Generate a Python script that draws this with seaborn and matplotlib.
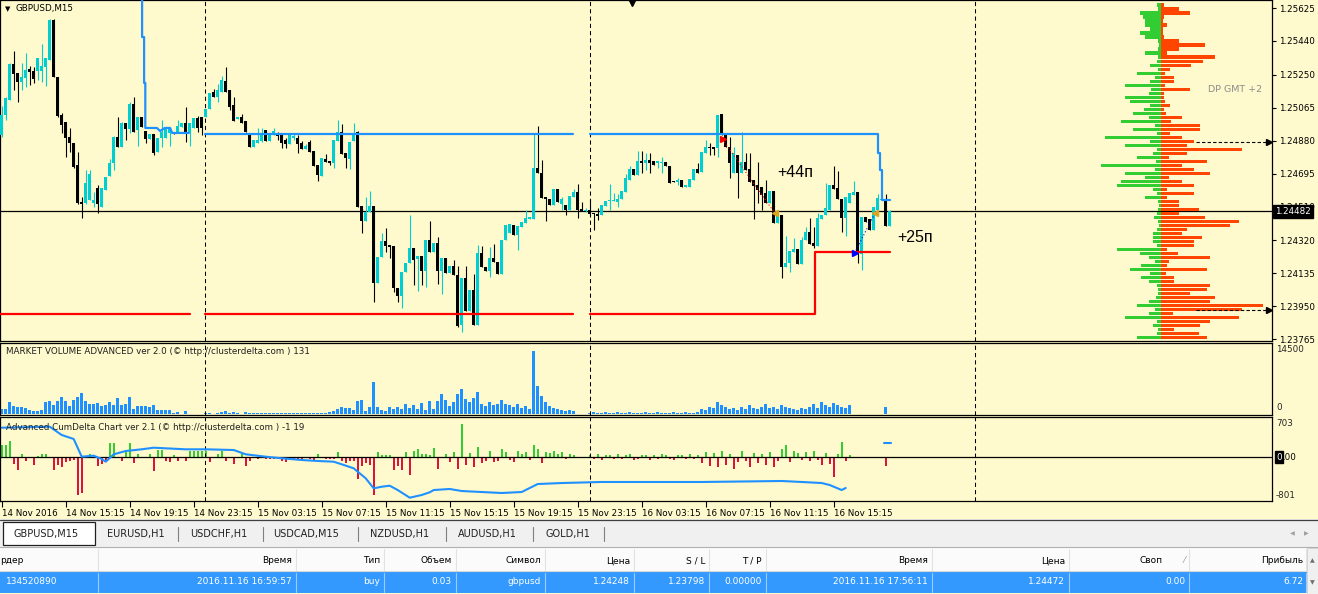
import numpy as np
import pandas as pd
import matplotlib
matplotlib.use("Agg")
import matplotlib.pyplot as plt
import matplotlib.transforms as mtrans
from matplotlib.patches import Rectangle
import seaborn as sns

# ---------------- data (prices as 1.2 + value/1e5) ----------------
OPEN = [
 4911,5024,5108,5310,5260,5209,5232,5282,5271,5271,
 5271,5293,5333,5558,5237,5024,4984,4900,4866,4743,
 4535,4529,4546,4529,4613,4507,4602,4681,4754,4900,
 4844,4979,4945,5086,4939,5012,4934,4889,4917,4816,
 4894,4894,4923,4928,4923,4956,4979,4923,4951,5007,
 5012,5012,5057,5153,5125,5153,5215,5164,5080,5001,
 5012,4990,4923,4844,4866,4878,4939,4878,4911,4917,
 4917,4883,4861,4894,4894,4866,4833,4872,4821,4743,
 4681,4776,4765,4754,4878,4928,4810,4776,4878,4928,
 4512,4428,4479,4512,4080,4226,4316,4293,4288,4051,
 4007,4141,4192,4276,4214,4231,4147,4321,4254,4304,
 4147,4220,4136,4175,4125,3844,4108,3922,4040,3844,
 4248,4170,4147,4220,4198,4130,4321,4361,4406,4349,
 4394,4417,4439,4439,4726,4697,4563,4551,4518,4608,
 4524,4518,4490,4563,4591,4495,4484,4490,4473,4467,
 4462,4512,4540,4540,4535,4551,4591,4658,4720,4687,
 4765,4754,4771,4765,4754,4754,4760,4737,4653,4647,
 4658,4619,4619,4658,4720,4703,4810,4844,4844,4838,
 5029,4911,4844,4697,4799,4697,4760,4720,4658,4630,
 4619,4585,4529,4597,4417,4462,4170,4192,4254,4271,
 4186,4321,4366,4304,4288,4439,4462,4490,4630,4613,
 4551,4445,4529,4574,4591,4243,4450,4439,4377,4490,
 4546,4546,4400]
HIGH = [
 5074,5125,5316,5383,5260,5316,5372,5299,5293,5344,
 5423,5344,5563,5563,5237,5035,4984,4951,4866,4816,
 4563,4715,4715,4591,4630,4613,4675,4776,4906,5012,
 4984,4979,5097,5125,5012,5012,4934,4917,4917,4894,
 4996,4945,4951,4928,4996,4979,5069,4979,5007,5018,
 5012,5057,5147,5170,5198,5243,5293,5164,5125,5012,
 5029,4990,4923,4883,4951,4951,4939,4911,4951,4928,
 4917,4894,4911,4917,4911,4878,4861,4883,4821,4743,
 4782,4805,4765,4883,4996,4973,4810,4872,4979,4934,
 4512,4563,4597,4512,4226,4361,4389,4293,4288,4051,
 4141,4192,4462,4276,4231,4231,4321,4428,4304,4338,
 4220,4220,4175,4209,4175,4108,4175,4040,4130,4293,
 4288,4170,4282,4299,4198,4321,4406,4411,4406,4400,
 4422,4490,4450,4917,4962,4771,4563,4551,4608,4608,
 4563,4518,4568,4608,4636,4535,4501,4551,4473,4501,
 4518,4540,4636,4585,4580,4597,4692,4737,4720,4821,
 4821,4810,4810,4765,4765,4788,4760,4737,4653,4670,
 4658,4630,4664,4720,4754,4816,4883,4866,4844,5024,
 5029,4911,4900,4844,4799,4928,4810,4810,4658,4760,
 4619,4658,4597,4597,4462,4462,4343,4259,4332,4271,
 4338,4394,4445,4394,4473,4462,4642,4630,4737,4709,
 4551,4563,4585,4653,4591,4450,4450,4439,4507,4580,
 4551,4580,4490]
LOW = [
 4900,4996,5108,5164,5097,5164,5181,5192,5204,5220,
 5209,5187,5333,5237,5012,4923,4788,4816,4725,4524,
 4445,4524,4546,4507,4473,4507,4602,4681,4715,4844,
 4844,4883,4923,4928,4850,4956,4866,4889,4799,4816,
 4844,4894,4850,4917,4923,4956,4872,4850,4951,4928,
 4911,5012,5057,5125,5097,5153,5153,5052,4990,5001,
 4979,4928,4844,4844,4866,4872,4878,4878,4911,4883,
 4838,4838,4861,4883,4810,4833,4833,4816,4737,4653,
 4681,4760,4743,4725,4878,4805,4725,4720,4878,4507,
 4361,4428,4479,3973,4080,4226,4254,4220,4029,3973,
 3939,4141,4192,4068,4035,4068,4057,4254,4254,4074,
 4018,4136,4136,4125,3832,3804,3922,3922,3844,3844,
 4170,4147,4113,4198,4130,4130,4321,4361,4349,4265,
 4394,4417,4439,4439,4697,4557,4428,4518,4518,4535,
 4490,4462,4490,4563,4445,4484,4479,4462,4377,4434,
 4462,4512,4490,4540,4507,4551,4591,4658,4687,4687,
 4698,4715,4698,4743,4725,4698,4737,4642,4647,4630,
 4619,4619,4619,4658,4697,4703,4810,4799,4799,4788,
 4911,4844,4670,4697,4557,4697,4715,4647,4439,4529,
 4490,4529,4529,4417,4417,4108,4170,4141,4254,4186,
 4186,4321,4299,4276,4288,4439,4462,4490,4608,4551,
 4366,4343,4529,4574,4192,4153,4422,4377,4377,4490,
 4546,4400,4400]
CLOSE = [
 5024,5119,5310,5254,5209,5237,5277,5265,5226,5344,
 5299,5344,5558,5237,5018,4968,4894,4866,4731,4529,
 4524,4642,4692,4546,4524,4613,4675,4754,4900,4844,
 4979,4945,5086,4928,5012,4956,4889,4917,4810,4894,
 4928,4945,4951,4917,4962,4979,4923,4979,5007,4951,
 4951,5057,5147,5125,5164,5220,5153,5069,4990,5012,
 4979,4928,4844,4883,4883,4911,4878,4911,4934,4906,
 4866,4861,4911,4906,4861,4833,4850,4816,4737,4687,
 4782,4760,4754,4883,4928,4805,4782,4872,4923,4507,
 4428,4479,4512,4080,4226,4316,4288,4282,4051,4007,
 4141,4192,4276,4209,4231,4147,4321,4254,4304,4147,
 4220,4136,4175,4125,3838,4108,3922,4040,3844,4248,
 4170,4147,4220,4198,4130,4321,4406,4411,4349,4400,
 4422,4445,4450,4726,4697,4557,4551,4518,4608,4535,
 4551,4490,4568,4591,4490,4484,4490,4467,4467,4456,
 4518,4540,4546,4546,4551,4597,4670,4720,4687,4765,
 4754,4771,4754,4743,4765,4760,4737,4642,4647,4658,
 4619,4630,4664,4720,4697,4816,4844,4838,4833,5024,
 4911,4844,4754,4810,4697,4760,4715,4647,4624,4602,
 4574,4529,4597,4417,4462,4170,4192,4259,4271,4186,
 4321,4366,4299,4288,4445,4462,4501,4630,4608,4551,
 4445,4563,4585,4591,4243,4450,4422,4377,4507,4557,
 4551,4400,4482]

VOLUME = [
 1130,1130,2720,1810,1590,1590,1360,910,680,680,
 910,2720,2950,2040,2950,3850,2950,1810,3170,3850,
 4760,2950,2270,2270,2490,1810,2040,2720,2040,3630,
 2040,2270,3850,1130,1810,1810,1810,1590,2040,910,
 910,910,910,230,450,110,680,0,0,0,
 0,230,230,110,230,450,680,230,450,230,
 110,450,230,230,230,230,230,230,230,230,
 230,230,230,230,230,230,230,230,230,230,
 230,230,450,680,1130,1590,1360,1360,910,2950,
 3170,680,1590,7250,1590,910,680,1590,1130,1590,
 1130,2270,1360,2040,1130,2490,910,2950,1130,2950,
 4530,3170,
 1810,2720,4530,5670,3400,2720,3630,4990,2270,1810,
 2720,2040,2270,3170,2270,2040,1590,2270,1360,1810,
 1130,14280,6350,4080,2720,1810,1360,1130,910,680,
 910,680,0,0,0,
 230,450,230,230,450,230,230,450,230,230,
 450,230,230,230,450,230,230,450,230,230,
 230,450,230,230,450,230,230,450,
 1130,910,1590,1360,2720,2040,1590,1130,1360,910,
 1590,1130,2040,1360,1130,1590,2270,1360,1590,1130,
 2040,1590,1360,1130,910,1360,1130,1590,2270,1360,
 2720,2040,1590,2490,2040,1590,1360,2040,
 0,0,0,0,0,0,0,0,1590,0]

DELTA = [
 254,254,338,-148,-275,63,-85,0,-169,21,
 63,63,0,-275,-169,-212,-106,-85,-63,-801,
 -761,0,63,0,-190,-148,-85,296,296,0,
 -85,127,296,-127,63,0,0,63,-296,148,
 148,-85,-106,42,-85,0,-85,127,127,127,
 127,127,-106,0,63,127,-85,0,-148,0,
 63,-190,-85,0,-42,0,-42,-42,-42,-42,
 -85,-106,-42,-42,-42,-63,0,-42,-63,63,
 0,-42,-42,-42,106,-85,-127,-85,-85,-465,
 -190,-127,-169,-790,106,42,42,42,-275,-190,
 -275,106,-381,127,169,63,63,42,190,-254,
 0,63,
 -106,106,-254,703,-169,85,-212,212,-127,-85,
 127,-106,-85,169,106,-63,-106,127,63,106,
 -63,254,169,-127,106,85,127,63,106,-42,
 63,42,0,0,0,
 42,-42,63,-63,42,42,-42,63,-42,42,
 63,-63,-42,42,42,-63,42,-42,63,42,
 -42,-63,42,42,-42,63,-42,42,
 -127,106,-190,85,-212,127,-169,63,-254,-106,
 127,-85,-212,85,-127,63,-169,106,-212,-85,
 169,254,-106,127,85,-63,106,-85,127,-63,
 -169,85,-148,-423,63,317,-85,42,
 0,0,0,0,0,0,0,0,-190,0]

CUM_IDX = [0,12,15,18,20,23,25,26,28,31,35,38,41,46,51,58,61,66,70,75,79,83,85,88,90,
           91,93,95,97,99,102,105,107,108,112,115,120,125,130,134,140,150,175,195,200,
           205,207,210,211]
CUM_VAL = [626,647,472,387,13,34,-36,-93,63,133,169,203,190,169,169,154,63,13,-21,-57,
           -78,-93,-148,-233,-374,-444,-656,-622,-601,-692,-854,-797,-740,-692,-670,
           -713,-734,-755,-734,-565,-544,-522,-522,-501,-522,-544,-586,-692,-649]
CUM_TAIL_IDX = [220.6, 222.2]
CUM_TAIL_VAL = [302, 302]

# daily high / low levels (indicator lines)
BLUE1_IDX = [35.1, 35.1, 35.6, 35.6, 35.9, 35.9, 38.8, 39.6, 40.8, 42.1, 42.6, 46.8]
BLUE1_VAL = [5670, 5462, 5462, 5204, 5204, 4951, 4951, 4934, 4951, 4951, 4923, 4923]
BLUE2_IDX = [50.8, 142.8]
BLUE2_VAL = [4917, 4917]
BLUE3_IDX = [147.1, 219.0, 219.0, 219.6, 219.6, 220.0, 220.0, 222.1]
BLUE3_VAL = [4917, 4917, 4810, 4810, 4715, 4715, 4546, 4546]
RED1_IDX = [-0.5, 47.1]
RED1_VAL = [3905, 3905]
RED2_IDX = [50.8, 142.8]
RED2_VAL = [3905, 3905]
RED3_IDX = [147.1, 203.4, 203.4, 222.1]
RED3_VAL = [3905, 3905, 4254, 4254]

DAY_SEP = [50.8, 147.1, 243.3]
CUR_PRICE = 1.24482
PRICE_TICKS = [1.25625, 1.25440, 1.25250, 1.25065, 1.24880, 1.24695, 1.24510,
               1.24320, 1.24135, 1.23950, 1.23765]
TIME_LABELS = ["14 Nov 2016", "14 Nov 15:15", "14 Nov 19:15", "14 Nov 23:15",
               "15 Nov 03:15", "15 Nov 07:15", "15 Nov 11:15", "15 Nov 15:15",
               "15 Nov 19:15", "15 Nov 23:15", "16 Nov 03:15", "16 Nov 07:15",
               "16 Nov 11:15", "16 Nov 15:15"]

# volume profile (rows from top, step of one price bin)
PROF_TOP = 1.256419
PROF_STEP = 0.0002248
PROF_GREEN = [4,3,21,18,16,16,11,21,16,3,2,3,16,3,4,11,3,24,6,11,36,10,12,36,31,11,17,28,
              12,40,6,28,4,56,11,36,4,8,24,5,60,6,36,16,40,44,8,4,16,3,2,3,4,7,3,2,4,8,
              8,8,4,44,21,12,6,20,31,11,20,12,4,3,3,5,12,24,6,12,36,4,8,3,4,24]
PROF_ORANGE = [3,18,29,3,2,6,2,2,3,18,44,18,6,54,42,30,9,4,13,13,4,29,3,3,4,9,3,5,21,10,
               39,39,9,21,33,26,81,26,8,46,21,33,49,8,21,33,6,33,6,18,18,38,18,44,78,69,
               26,21,41,33,33,6,17,49,8,6,46,5,13,13,49,46,29,54,49,102,81,12,78,49,39,
               13,38,46]
PROF_MARKS = [1.24872, 1.23928]

TRADE_SELL = (180.2, 1.24887, 193.3, 1.24472)
TRADE_BUY = (213.2, 1.24248, 218.3, 1.24472)

TABS = ["GBPUSD,M15", "EURUSD,H1", "USDCHF,H1", "USDCAD,M15", "NZDUSD,H1",
        "AUDUSD,H1", "GOLD,H1"]
HEADERS = ["рдер", "Время", "Тип", "Объем", "Символ", "Цена", "S / L", "T / P",
           "Время", "Цена", "Своп", "Прибыль"]
ROW = ["134520890", "2016.11.16 16:59:57", "buy", "0.03", "gbpusd", "1.24248",
       "1.23798", "0.00000", "2016.11.16 17:56:11", "1.24472", "0.00", "6.72"]

# ---------------- figure ----------------
sns.set_theme(style="white")
plt.rcParams['font.family'] = ['DejaVu Sans']
plt.rcParams['axes.linewidth'] = 0.8

W, H = 1318, 594
fig = plt.figure(figsize=(W / 100, H / 100), dpi=100)
BG = '#FFFACD'
fig.patch.set_facecolor(BG)
FS = 6.3


def add_box(x0, y0, x1, y1):
    return fig.add_axes([x0 / W, 1 - y1 / H, (x1 - x0) / W, (y1 - y0) / H])


def ftext(x, y, s, **kw):
    return fig.text(x / W, 1 - y / H, s, **kw)


def price(v):
    return 1.2 + np.asarray(v, dtype=float) / 1e5


o, hi, lo, c = price(OPEN), price(HIGH), price(LOW), price(CLOSE)
n = len(c)
idx = np.arange(n)
bull = c >= o
cols = np.where(bull, '#00CED1', '#000000')
XL = (-0.425, 317.575)

# ---- main chart ----
ax = add_box(0, 0, 1272, 341)
ax.set_facecolor(BG)
ax.set_xlim(*XL)
ax.set_ylim(1.23754, 1.25670)
for s in ax.spines.values():
    s.set_color('black'); s.set_linewidth(0.9)

for xs in DAY_SEP:
    ax.axvline(xs, color='black', lw=0.75, ls=(0, (4, 3)), zorder=1)
ax.axhline(CUR_PRICE, color='black', lw=0.9, zorder=1)

ax.vlines(idx, lo, hi, colors=cols, lw=0.8, zorder=3)
minh = 5.0e-5
body = np.abs(c - o)
bot = np.minimum(o, c) - np.where(body < minh, (minh - body) / 2, 0)
ax.bar(idx, np.maximum(body, minh), bottom=bot, width=0.75, color=cols, lw=0, zorder=4)

for xi, yv, colr in [(BLUE1_IDX, BLUE1_VAL, '#1E90FF'), (BLUE2_IDX, BLUE2_VAL, '#1E90FF'),
                     (BLUE3_IDX, BLUE3_VAL, '#1E90FF'), (RED1_IDX, RED1_VAL, '#FF0000'),
                     (RED2_IDX, RED2_VAL, '#FF0000'), (RED3_IDX, RED3_VAL, '#FF0000')]:
    df = pd.DataFrame({'i': xi, 'p': price(yv)})
    sns.lineplot(data=df, x='i', y='p', ax=ax, color=colr, lw=1.6, sort=False,
                 estimator=None, legend=False, zorder=5)

# trades
sx, sp, cx, cp = TRADE_SELL
ax.plot([sx, cx], [sp, cp], color='#FF0000', lw=0.8, ls=(0, (1, 2)), zorder=6)
ax.plot(sx, sp, marker='>', color='#FF0000', ms=5, zorder=7)
ax.plot(cx, cp, marker='<', color='#DAA520', ms=5, zorder=7)
bx, bp, cx2, cp2 = TRADE_BUY
ax.plot([bx, cx2], [bp, cp2], color='#0000FF', lw=0.8, ls=(0, (1, 2)), zorder=6)
ax.plot(bx, bp, marker='>', color='#0000FF', ms=5, zorder=7)
ax.plot(cx2, cp2, marker='<', color='#DAA520', ms=5, zorder=7)
ax.text(193.8, 1.24698, "+44п", fontsize=11.5, family='Liberation Sans', va='center',
        ha='left', color='black', zorder=8)
ax.text(224.0, 1.24333, "+25п", fontsize=11.5, family='Liberation Sans', va='center',
        ha='left', color='black', zorder=8)
ax.plot(157.6, 1.25655, marker='v', color='black', ms=4.5, clip_on=False, zorder=8)

ax.set_xticks([])
ax.yaxis.tick_right()
ax.set_yticks(PRICE_TICKS)
ax.set_yticklabels([f"{p:.5f}" for p in PRICE_TICKS])
ax.tick_params(axis='y', right=True, left=False, labelright=True, labelleft=False,
               length=3, width=0.8, color='black', labelsize=FS, pad=2,
               direction='out', labelcolor='black')
ax.set_xlabel(''); ax.set_ylabel('')
tr = mtrans.blended_transform_factory(ax.transAxes, ax.transData)
ax.text(1.0025, CUR_PRICE, "1.24482", transform=tr, fontsize=FS, color='white',
        va='center', ha='left', zorder=20, clip_on=False,
        bbox=dict(boxstyle='square,pad=0.22', fc='black', ec='black'))
ftext(5, 9, "▼", fontsize=5, va='center', ha='left', color='black')
ftext(16, 9, "GBPUSD,M15", fontsize=FS, va='center', ha='left', color='black')

# ---- volume profile ----
axp = add_box(1090, 0, 1272, 341)
axp.patch.set_alpha(0)
axp.set_xlim(-70.7, 111.3)
axp.set_ylim(1.23754, 1.25670)
axp.axis('off')
levels = PROF_TOP - PROF_STEP * np.arange(len(PROF_GREEN))
axp.barh(levels, -np.asarray(PROF_GREEN), height=0.00017, color='#32CD32', lw=0)
axp.barh(levels, PROF_ORANGE, height=0.00017, color='#FF4500', lw=0)
for pm in PROF_MARKS:
    axp.plot([35, 107], [pm, pm], color='black', lw=0.8, ls=(0, (3, 2)))
    axp.plot(108.5, pm, marker='>', color='black', ms=4.5, clip_on=False)
ftext(1208, 89, "DP GMT +2", fontsize=6.8, color='#8C8C8C', va='center', ha='left')

# ---- volume panel ----
axv = add_box(0, 343, 1272, 415)
axv.set_facecolor(BG)
axv.set_xlim(*XL)
axv.set_ylim(-227, 16117)
axv.bar(idx, VOLUME, width=0.65, color='#1E90FF', lw=0)
for xs in DAY_SEP:
    axv.axvline(xs, color='black', lw=0.75, ls=(0, (4, 3)))
axv.set_xticks([]); axv.set_yticks([])
for s in axv.spines.values():
    s.set_color('black'); s.set_linewidth(0.9)
ftext(6, 351, "MARKET VOLUME ADVANCED ver 2.0 (© http://clusterdelta.com ) 131",
      fontsize=FS, va='center', ha='left', color='#202020')
ftext(1276, 349, "14500", fontsize=FS, va='center', ha='left')
ftext(1276, 408, "0", fontsize=FS, va='center', ha='left')

# ---- cumdelta panel ----
axd = add_box(0, 417, 1272, 501)
axd.set_facecolor(BG)
axd.set_xlim(*XL)
axd.set_ylim(-924, 852)
dvals = np.asarray(DELTA)
axd.bar(idx, dvals, width=0.6, color=np.where(dvals >= 0, '#32CD32', '#DC143C'), lw=0)
axd.axhline(0, color='black', lw=0.9)
for xs in DAY_SEP:
    axd.axvline(xs, color='black', lw=0.75, ls=(0, (4, 3)))
sns.lineplot(data=pd.DataFrame({'i': CUM_IDX, 'v': CUM_VAL}), x='i', y='v', ax=axd,
             color='#1E90FF', lw=1.5, estimator=None, sort=False, legend=False)
sns.lineplot(data=pd.DataFrame({'i': CUM_TAIL_IDX, 'v': CUM_TAIL_VAL}), x='i', y='v',
             ax=axd, color='#1E90FF', lw=1.5, estimator=None, sort=False, legend=False)
axd.set_xlabel(''); axd.set_ylabel('')
axd.set_yticks([])
tick_pos = [16 * k for k in range(len(TIME_LABELS))]
axd.set_xticks(tick_pos)
axd.set_xticklabels(TIME_LABELS)
axd.tick_params(axis='x', bottom=True, length=4, width=0.8, color='black',
                labelsize=FS, pad=1.5, direction='out', labelcolor='black')
for lab in axd.get_xticklabels():
    lab.set_ha('left')
for s in axd.spines.values():
    s.set_color('black'); s.set_linewidth(0.9)
ftext(6, 427, "Advanced CumDelta Chart ver 2.1 (© http://clusterdelta.com ) -1 19",
      fontsize=FS, va='center', ha='left', color='#202020')
ftext(1276, 424, "703", fontsize=FS, va='center', ha='left')
ftext(1276, 495, "-801", fontsize=FS, va='center', ha='left')
# zero label: first digit highlighted in a black box, as in the terminal
ftext(1276, 457, "0", fontsize=FS, va='center', ha='left', color='white', zorder=6,
      bbox=dict(boxstyle='square,pad=0.12', fc='black', ec='black'))
ftext(1282, 457, ".00", fontsize=FS, va='center', ha='left', color='black')

# ---- bottom: tabs and terminal table ----
axb = add_box(0, 519, 1318, 594)
axb.set_xlim(0, W)
axb.set_ylim(594, 519)
axb.axis('off')
axb.add_patch(Rectangle((0, 519), W, 29, fc='#F0F0F0', ec='none'))
axb.plot([0, W], [520.5, 520.5], color='#404040', lw=0.9)
axb.add_patch(Rectangle((3, 522), 92, 23, fc='white', ec='#202020', lw=0.9))
tab_x = [13, 107, 190, 273, 370, 458, 545]
sep_x = [178, 263, 358, 446, 533, 604]
for t, x in zip(TABS, tab_x):
    axb.text(x, 534, t, fontsize=7, va='center', ha='left', color='#202020')
for x in sep_x:
    axb.plot([x, x], [527, 541], color='#808080', lw=0.8)
axb.text(1292, 534, "◀", fontsize=4.5, va='center', ha='center', color='#A0A0A0')
axb.text(1306, 534, "▶", fontsize=4.5, va='center', ha='center', color='#A0A0A0')
axb.plot([0, W], [547.5, 547.5], color='#B0B0B0', lw=0.8)
axb.add_patch(Rectangle((0, 548), 1307, 23, fc='#FBFBFB', ec='none'))
axb.plot([0, 1307], [571, 571], color='#D8D8D8', lw=0.8)
axb.add_patch(Rectangle((0, 572), 1307, 21, fc='#3399FF', ec='none'))
axb.add_patch(Rectangle((1307, 548), 11, 46, fc='#F0F0F0', ec='#D0D0D0', lw=0.6))
axb.text(1312.5, 561, "▲", fontsize=4.5, va='center', ha='center', color='#707070')
axb.text(1312.5, 583, "▼", fontsize=4.5, va='center', ha='center', color='#707070')
col_sep = [98, 296, 384, 456, 545, 634, 709, 766, 932, 1069, 1189, 1306]
right_x = [None, 292, 380, 452, 541, 630, 705, 762, 928, 1065, 1185, 1303]
for x in col_sep:
    axb.plot([x, x], [549, 570], color='#E2E2E2', lw=0.8)
    axb.plot([x, x], [573, 592], color='#9CCBFF', lw=0.8)
for k, (hd, rv) in enumerate(zip(HEADERS, ROW)):
    if k == 0:
        axb.text(0, 561, hd, fontsize=6.5, va='center', ha='left', color='black')
        axb.text(6, 582, rv, fontsize=6.5, va='center', ha='left', color='white')
    else:
        hx = right_x[k] - (22 if hd == "Своп" else 0)
        axb.text(hx, 561, hd, fontsize=6.5, va='center', ha='right', color='black')
        axb.text(right_x[k], 582, rv, fontsize=6.5, va='center', ha='right', color='white')
axb.text(1185, 561, "⁄", fontsize=6, va='center', ha='right', color='#909090')

fig.savefig("out.png", dpi=100, facecolor=fig.get_facecolor())
